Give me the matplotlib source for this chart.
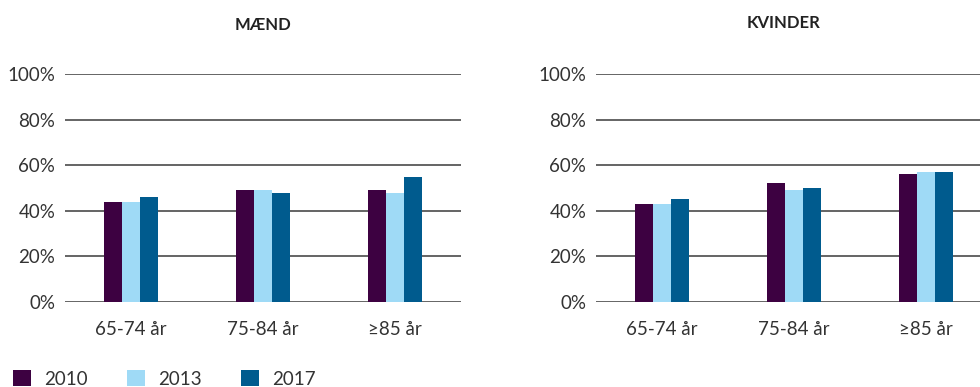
import matplotlib
matplotlib.use("Agg")
import matplotlib.pyplot as plt
from matplotlib.patches import Patch
import numpy as np

plt.rcParams['font.family'] = ['Lato', 'DejaVu Sans']

categories = ["65-74 år", "75-84 år", "≥85 år"]
years = ["2010", "2013", "2017"]
maend = {"2010": [44, 49, 49], "2013": [44, 49, 48], "2017": [46, 48, 55]}
kvinder = {"2010": [43, 52, 56], "2013": [43, 49, 57], "2017": [45, 50, 57]}
yticks = [0, 20, 40, 60, 80, 100]
colors = {"2010": "#3d0141", "2013": "#9fdaf6", "2017": "#005b8e"}

W, H = 980, 387
fig = plt.figure(figsize=(W / 100, H / 100), dpi=100)

def panel(left_px, data):
    ax = fig.add_axes([left_px / W, (H - 302) / H, 396 / W, 228 / H])
    x = np.arange(len(categories))
    bw = 0.137
    for i, y in enumerate(years):
        ax.bar(x + (i - 1) * bw, data[y], width=bw, color=colors[y], zorder=3, linewidth=0)
    ax.set_xlim(-0.5, 2.5)
    ax.set_ylim(0, 100)
    ax.set_yticks(yticks)
    ax.set_yticklabels([f"{v}%" for v in yticks])
    ax.set_xticks(x)
    ax.set_xticklabels(categories)
    for s in ax.spines.values():
        s.set_visible(False)
    ax.tick_params(axis='both', length=0, labelsize=13.5, colors="#333333")
    ax.tick_params(axis='y', pad=7)
    ax.tick_params(axis='x', pad=14)
    ax.yaxis.grid(True, color="#3a3a3a", linewidth=1.1)
    ax.set_axisbelow(True)
    return ax

panel(65, maend)
panel(596, kvinder)

fig.text(263 / W, 1 - 25 / H, "MÆND", ha="center", va="center", fontsize=12,
         fontweight="bold", color="#222222")
fig.text(783 / W, 1 - 23 / H, "KVINDER", ha="center", va="center", fontsize=12,
         fontweight="bold", color="#222222")

handles = [Patch(facecolor=colors[y], edgecolor='none', label=y) for y in years]
fig.legend(handles=handles, loc="center left", bbox_to_anchor=(13 / W, 8 / H),
           ncol=3, frameon=False, fontsize=13.5, handlelength=0.95, handleheight=0.95,
           handletextpad=0.7, columnspacing=2.1, labelcolor="#333333",
           borderaxespad=0, borderpad=0)

fig.savefig("out.png", dpi=100)
